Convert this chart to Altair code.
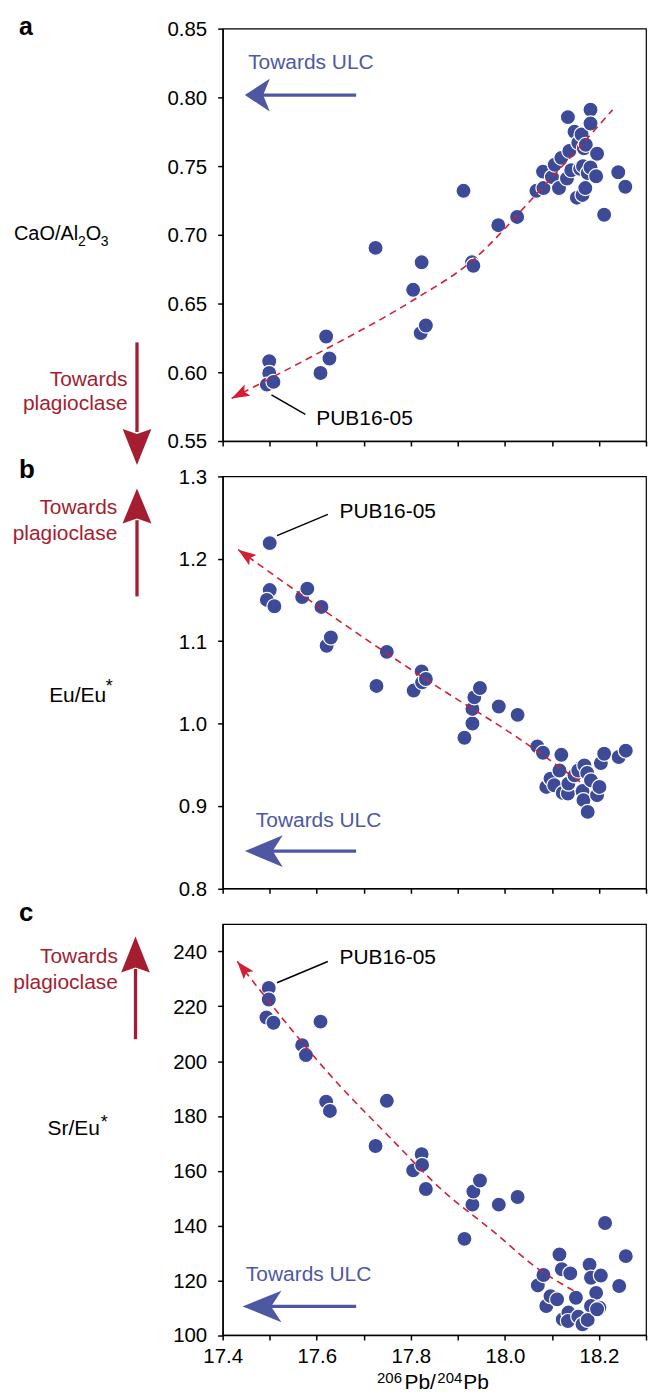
import math
import altair as alt
import pandas as pd

FONT = "Liberation Sans"
PT = "#3c4a98"
BLUE = "#4e58a2"
DRED = "#a51d30"
RED = "#d21f36"

W = 425
HA, HB, HC = 414, 413.5, 412.5
XDOM = [17.4, 18.3]
XTICKS = [17.4, 17.5, 17.6, 17.7, 17.8, 17.9, 18.0, 18.1, 18.2, 18.3]

# ---- panel a: CaO/Al2O3 ----
a_x = [17.499, 17.499, 17.494, 17.508, 17.620, 17.627, 17.608, 17.725, 17.823, 17.805,
       17.821, 17.832, 17.912, 17.930, 17.933, 17.986, 18.026, 18.067, 18.081, 18.082,
       18.100, 18.106, 18.120, 18.115, 18.134, 18.132, 18.137, 18.141, 18.148, 18.156,
       18.160, 18.163, 18.168, 18.172, 18.166, 18.153, 18.165, 18.171, 18.176, 18.182,
       18.182, 18.182, 18.194, 18.196, 18.211, 18.241, 18.256]
a_y = [0.608, 0.5995, 0.591, 0.593, 0.626, 0.610, 0.5995, 0.6905, 0.680, 0.660,
       0.6285, 0.634, 0.732, 0.680, 0.6775, 0.707, 0.713, 0.732, 0.746, 0.734,
       0.742, 0.751, 0.756, 0.734, 0.7856, 0.741, 0.761, 0.747, 0.775, 0.767,
       0.748, 0.773, 0.763, 0.7655, 0.750, 0.727, 0.729, 0.734, 0.745, 0.791,
       0.781, 0.749, 0.7426, 0.759, 0.7146, 0.7455, 0.735]
a_tx = [17.419, 17.5, 17.62, 17.803, 17.930, 18.063, 18.229]
a_ty = [0.581, 0.5954, 0.617, 0.652, 0.681, 0.7281, 0.7909]

# ---- panel b: Eu/Eu* ----
b_x = [17.500, 17.500, 17.494, 17.510, 17.569, 17.580, 17.610, 17.621, 17.630, 17.749,
       17.727, 17.806, 17.823, 17.824, 17.832, 17.914, 17.931, 17.931, 17.935, 17.947,
       17.987, 18.027, 18.069, 18.081, 18.088, 18.097, 18.105, 18.120, 18.116, 18.123,
       18.134, 18.135, 18.148, 18.160, 18.156, 18.169, 18.175, 18.165, 18.167, 18.176,
       18.183, 18.196, 18.201, 18.204, 18.211, 18.242, 18.257]
b_y = [1.219, 1.162, 1.150, 1.1423, 1.1536, 1.1637, 1.1415, 1.0944, 1.1044, 1.087,
       1.0456, 1.040, 1.0633, 1.050, 1.054, 0.9827, 1.000, 1.0177, 1.0319, 1.0431,
       1.0206, 1.0105, 0.9722, 0.9645, 0.923, 0.933, 0.925, 0.962, 0.943, 0.9157,
       0.915, 0.927, 0.937, 0.946, 0.943, 0.949, 0.940, 0.918, 0.907, 0.8927,
       0.931, 0.913, 0.923, 0.952, 0.9633, 0.9593, 0.967]
b_tx = [17.433, 17.606, 17.831, 18.042, 18.165]
b_ty = [1.211, 1.141, 1.054, 0.977, 0.927]

# ---- panel c: Sr/Eu* ----
c_x = [17.498, 17.498, 17.493, 17.508, 17.608, 17.569, 17.577, 17.620, 17.628, 17.749,
       17.725, 17.805, 17.823, 17.824, 17.832, 17.914, 17.931, 17.933, 17.947, 17.987,
       18.027, 18.116, 18.213, 18.257, 18.243, 18.180, 18.070, 18.082, 18.121, 18.139,
       18.183, 18.204, 18.088, 18.097, 18.111, 18.151, 18.194, 18.183, 18.201, 18.123,
       18.135, 18.134, 18.156, 18.165, 18.176, 18.196]
c_y = [226.7, 222.5, 215.9, 214.0, 214.4, 205.8, 202.2, 185.2, 181.8, 185.5,
       169.0, 160.1, 166.0, 162.1, 153.3, 135.1, 147.6, 152.4, 156.4, 147.6,
       150.4, 129.4, 140.9, 128.8, 117.9, 125.7, 118.1, 121.9, 124.0, 122.5,
       120.9, 121.7, 110.6, 114.2, 113.0, 113.6, 115.4, 110.6, 110.0, 105.7,
       108.2, 105.1, 106.7, 103.9, 105.5, 109.4]
c_tx = [17.431, 17.648, 17.754, 17.866, 17.979, 18.063, 18.151]
c_ty = [236.4, 191.2, 172.4, 153.0, 137.3, 125.1, 115.7]

one = pd.DataFrame({"k": [0]})


def txt(x, y, s, size=21, color="black", align="left", weight="normal"):
    return alt.Chart(one).mark_text(
        text=s, font=FONT, fontSize=size, color=color, align=align,
        baseline="alphabetic", fontWeight=weight
    ).encode(x=alt.value(x), y=alt.value(y))


def seg(x1, y1, x2, y2, color, width):
    return alt.Chart(one).mark_rule(color=color, strokeWidth=width).encode(
        x=alt.value(x1), y=alt.value(y1), x2=alt.value(x2), y2=alt.value(y2))


def head(x, y, path, size, color):
    return alt.Chart(one).mark_point(
        shape=path, size=size, filled=True, fill=color, color=color,
        strokeWidth=0, opacity=1
    ).encode(x=alt.value(x), y=alt.value(y))


LEFT_HEAD = "M0,0 L2,-{h} L1.47,0 L2,{h} Z"
DOWN_HEAD = "M0,0 L-{w},-2 L0,-1.72 L{w},-2 Z"
UP_HEAD = "M0,0 L-{w},2 L0,1.72 L{w},2 Z"
TREND_HEAD = "M0,0 L-2,-0.7 L-1.6,0 L-2,0.7 Z"


def panel(px, py, tx, ty, ydom, yticks, yfmt, H, xlabels, extras):
    if xlabels:
        xaxis = alt.Axis(values=XTICKS, title=None, grid=False, tickSize=5,
                         labelPadding=7, labelFlush=False, labelOverlap=False,
                         labelExpr="(abs(round(datum.value*10) % 2) == 0 && datum.value < 18.25) ? format(datum.value, '.1f') : ''")
    else:
        xaxis = alt.Axis(values=XTICKS, title=None, grid=False, tickSize=5, labels=False)
    X = alt.X("x:Q", scale=alt.Scale(domain=XDOM, nice=False, zero=False), axis=xaxis)
    Y = alt.Y("y:Q", scale=alt.Scale(domain=ydom, nice=False, zero=False),
              axis=alt.Axis(values=yticks, format=yfmt, title=None, grid=False,
                            tickSize=5, labelPadding=11, labelOverlap=False, labelOffset=1))
    pts = alt.Chart(pd.DataFrame({"x": px, "y": py})).mark_circle(
        size=230, color=PT, stroke="white", strokeWidth=1.2, opacity=1
    ).encode(x=X, y=Y)
    line = alt.Chart(pd.DataFrame({"x": tx, "y": ty})).mark_line(
        color=RED, strokeWidth=1.6, strokeDash=[7, 5], interpolate="monotone"
    ).encode(x=X, y=Y)
    dx = (tx[0] - tx[1]) * W / (XDOM[1] - XDOM[0])
    dy = -(ty[0] - ty[1]) * H / (ydom[1] - ydom[0])
    ang = math.degrees(math.atan2(dy, dx)) % 360
    hd = alt.Chart(pd.DataFrame({"x": [tx[0]], "y": [ty[0]]})).mark_point(
        shape=TREND_HEAD, size=324, filled=True, fill=RED, color=RED,
        strokeWidth=0, opacity=1, angle=ang
    ).encode(x=X, y=Y)
    return alt.layer(pts, line, hd, *extras).properties(width=W, height=H)


extras_a = [
    txt(-204.5, 6, "a", 25, weight="bold"),
    txt(-209.5, 212.3, "CaO/Al", 20),
    txt(-145.2, 218, "2", 14),
    txt(-137.5, 212.3, "O", 20),
    txt(-122.5, 218, "3", 14),
    seg(-86, 315, -86, 405, DRED, 3.3),
    head(-86, 438, DOWN_HEAD.format(w=0.8), 1296, DRED),
    txt(-95.5, 358.3, "Towards", 21, DRED, "right"),
    txt(-95.5, 383.3, "plagioclase", 21, DRED, "right"),
    txt(25.6, 41, "Towards ULC", 21, BLUE),
    seg(134, 66.7, 32, 66.7, BLUE, 3.3),
    head(22.3, 66.7, LEFT_HEAD.format(h=1.32), 625, BLUE),
    seg(49, 367.7, 83, 387.3, "black", 1.5),
    txt(94, 397.7, "PUB16-05", 21),
]

extras_b = [
    txt(-204.5, 1.5, "b", 26, weight="bold"),
    txt(-174.2, 226.2, "Eu/Eu", 21),
    txt(-117.3, 216.7, "*", 18),
    seg(-86, 120.5, -86, 44, DRED, 3.3),
    head(-86, 12.2, UP_HEAD.format(w=0.83), 1225, DRED),
    txt(-105.8, 38.2, "Towards", 21, DRED, "right"),
    txt(-105.8, 63.8, "plagioclase", 21, DRED, "right"),
    txt(33.3, 352.2, "Towards ULC", 21, BLUE),
    seg(134, 376.2, 42, 376.2, BLUE, 3.3),
    head(22.3, 376.2, LEFT_HEAD.format(h=0.84), 1444, BLUE),
    seg(54.6, 59.5, 105.6, 38.2, "black", 1.5),
    txt(117.3, 41.5, "PUB16-05", 21),
]

extras_c = [
    txt(-204.5, -2.8, "c", 26, weight="bold"),
    txt(-175.8, 211.5, "Sr/Eu", 21),
    txt(-122.5, 204.5, "*", 18),
    seg(-87.5, 115.5, -87.5, 45, DRED, 3.3),
    head(-87.5, 12.5, UP_HEAD.format(w=0.8), 1296, DRED),
    txt(-105.2, 39.2, "Towards", 21, DRED, "right"),
    txt(-105.2, 64.8, "plagioclase", 21, DRED, "right"),
    txt(23.3, 358.2, "Towards ULC", 21, BLUE),
    seg(134, 383.8, 40, 383.8, BLUE, 3.3),
    head(20, 383.8, LEFT_HEAD.format(h=0.81), 1521, BLUE),
    seg(54.6, 58.8, 105.6, 37.5, "black", 1.5),
    txt(117.3, 40.5, "PUB16-05", 21),
    txt(155, 460.3, "206", 15),
    txt(182.5, 467, "Pb/", 21),
    txt(215.5, 460.3, "204", 15),
    txt(241.5, 467, "Pb", 21),
]

pa = panel(a_x, a_y, a_tx, a_ty, [0.55, 0.85], [0.55, 0.60, 0.65, 0.70, 0.75, 0.80, 0.85],
           ".2f", HA, False, extras_a)
pb = panel(b_x, b_y, b_tx, b_ty, [0.8, 1.3], [0.8, 0.9, 1.0, 1.1, 1.2, 1.3],
           ".1f", HB, False, extras_b)
pc = panel(c_x, c_y, c_tx, c_ty, [100, 250], [100, 120, 140, 160, 180, 200, 220, 240],
           "d", HC, True, extras_c)

chart = alt.vconcat(pa, pb, pc, spacing=35.5, bounds="flush").properties(
    padding={"left": 3.5, "top": 3, "right": 0, "bottom": -5}
).configure_view(
    stroke="black", strokeWidth=1.2
).configure_axis(
    domainColor="black", domainWidth=1.5, tickColor="black", tickWidth=1.5,
    labelFont=FONT, labelFontSize=20.5, labelColor="black"
)

chart.save("out.html", embed_options={"renderer": "svg", "actions": False})
